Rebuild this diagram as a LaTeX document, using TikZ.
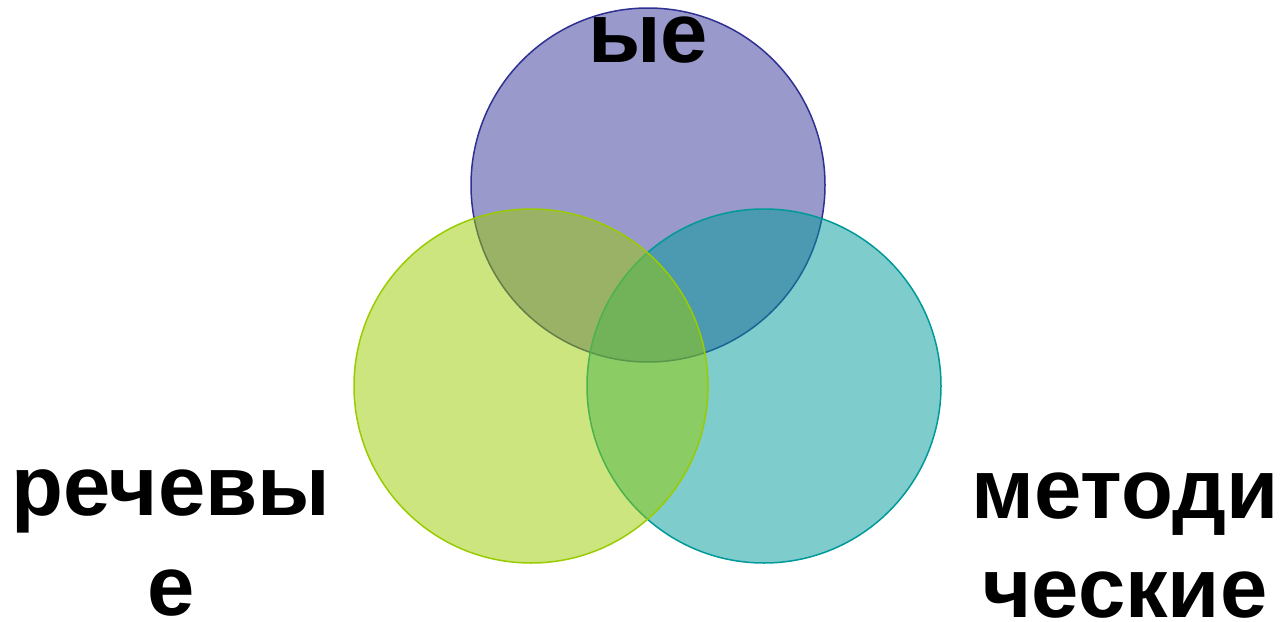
\documentclass[tikz,border=0pt]{standalone}
\usepackage{fontspec}
\setmainfont{Liberation Sans}
\definecolor{topc}{HTML}{333399}
\definecolor{topl}{HTML}{2E3192}
\definecolor{leftc}{HTML}{99CC00}
\definecolor{rightc}{HTML}{009999}
\begin{document}
\begin{tikzpicture}[x=1pt,y=-1pt,
  venn/.style={circle, minimum size=354pt, inner sep=0pt, fill opacity=0.5, line width=1.5pt},
  lbl/.style={anchor=base, font=\fontsize{85}{100}\selectfont\bfseries, inner sep=0pt}]
\useasboundingbox (0,0) rectangle (1282,621);
\node[venn, draw=topl, fill=topc] (top) at (648,185) {};
\node[venn, draw=rightc, fill=rightc] (right) at (764,386) {};
\node[venn, draw=leftc, fill=leftc] (left) at (531,386) {};
\node[lbl] (t1) at (648,62) {ые};
\node[lbl] (l1) at (171,515) {речевы};
\node[lbl] (l2) at (171,615) {е};
\node[lbl] (r1) at (1125,518) {методи};
\node[lbl] (r2) at (1125,617) {ческие};
\end{tikzpicture}
\end{document}
